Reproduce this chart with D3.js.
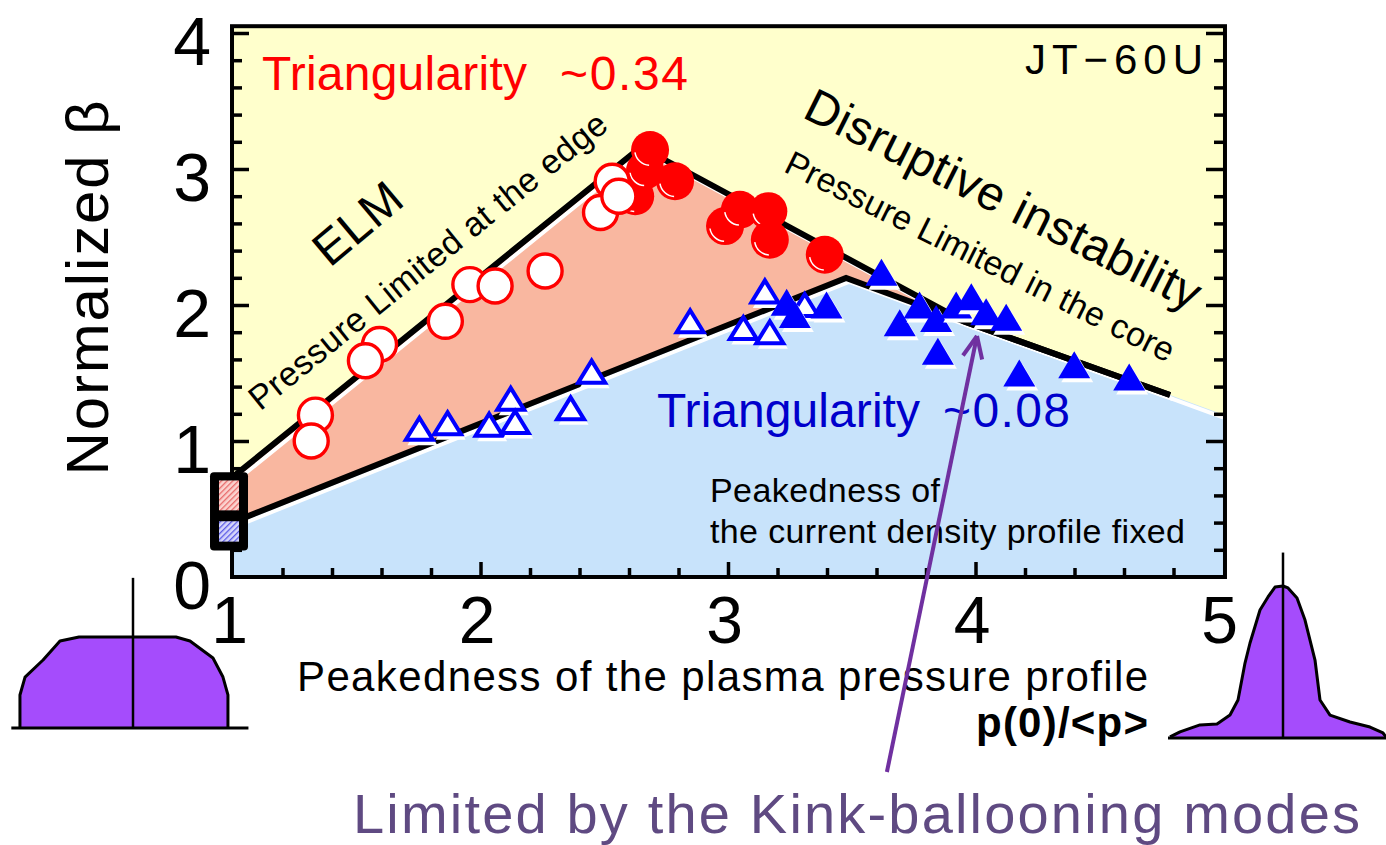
<!DOCTYPE html>
<html>
<head>
<meta charset="utf-8">
<script src="https://cdn.jsdelivr.net/npm/d3@7"></script>
<style>
  html, body { margin: 0; padding: 0; background: #ffffff; }
  svg { display: block; }
  text { font-family: "Liberation Sans", Arial, Helvetica, sans-serif; }
</style>
</head>
<body>
<svg id="chart" width="1386" height="845"></svg>
<script>
// ---- axis ticks ----
const xTickValues = [1, 2, 3, 4, 5];
const yTickValues = [0, 1, 2, 3, 4];

// ---- triangularity ~0.34 : open circles (ELM, edge-limited) ----
const edgeX = [1.333, 1.316, 1.592, 1.535, 1.858, 1.957, 2.059, 2.261, 2.532, 2.485, 2.559];
const edgeY = [1.19, 1.00, 1.71, 1.59, 1.88, 2.15, 2.14, 2.25, 2.91, 2.68, 2.80];

// ---- triangularity ~0.34 : filled circles (disruption, core-limited) ----
const coreX = [2.625, 2.665, 2.685, 2.786, 2.988, 3.048, 3.163, 3.169, 3.391];
const coreY = [2.80, 2.99, 3.14, 2.91, 2.58, 2.70, 2.69, 2.48, 2.37];

// ---- triangularity ~0.08 : open triangles ----
const lowEdgeX = [1.753, 1.867, 2.035, 2.122, 2.140, 2.364, 2.449, 2.847, 3.149, 3.062, 3.169, 3.310];
const lowEdgeY = [1.09, 1.13, 1.12, 1.31, 1.14, 1.24, 1.51, 1.88, 2.10, 1.83, 1.80, 2.00];

// ---- triangularity ~0.08 : filled triangles ----
const lowCoreX = [3.620, 3.237, 3.270, 3.398, 3.694, 3.774, 3.841, 3.922, 3.983, 4.043, 4.124, 3.848, 4.177, 4.399, 4.621];
const lowCoreY = [2.24, 2.02, 1.93, 2.00, 1.87, 2.00, 1.90, 2.00, 2.06, 1.95, 1.91, 1.66, 1.50, 1.56, 1.47];

// ---- operating-limit boundaries (x, beta_N) ----
const upperLimitX = [0.996, 2.648, 3.954, 4.786];
const upperLimitY = [0.73, 3.162, 1.879, 1.338];
const lowerLimitX = [0.996, 3.477, 3.954];
const lowerLimitY = [0.40, 2.199, 1.879];
const coreEdgeX = [0.996, 3.477, 3.954, 4.786, 5.008];
const coreEdgeY = [0.40, 2.199, 1.879, 1.338, 1.19];

// ---- pressure profile sketches (normalised radius, normalised pressure) ----
const flatR = [-1.087, -1.087, -1.038, -0.865, -0.702, -0.519, 0.413, 0.548, 0.769, 0.865, 0.913, 0.913];
const flatP = [0, 0.363, 0.56, 0.747, 0.956, 1.0, 1.0, 0.956, 0.769, 0.56, 0.363, 0];
const peakR = [-1.13, -1.03, -0.83, -0.66, -0.53, -0.45, -0.38, -0.33, -0.23, -0.15, -0.08, 0, 0.05, 0.14, 0.22, 0.32, 0.37, 0.47, 0.67, 0.87, 1.00, 1.03];
const peakP = [0.007, 0.04, 0.086, 0.092, 0.151, 0.25, 0.493, 0.625, 0.842, 0.928, 0.993, 1.0, 0.987, 0.921, 0.776, 0.513, 0.25, 0.151, 0.105, 0.072, 0.033, 0.007];

const zip = (a, b) => a.map((v, i) => [v, b[i]]);

const svg = d3.select("#chart");
const x = d3.scaleLinear().domain([1, 5]).range([233, 1223]);
const y = d3.scaleLinear().domain([0, 4]).range([577, 33]);

const fx0 = x(0.996), fx1 = x(5.008), fy0 = y(4.05), fy1 = y(0);

// ---- patterns ----
const defs = svg.append("defs");
const hatch = (id, base, line) => {
  const p = defs.append("pattern").attr("id", id).attr("patternUnits", "userSpaceOnUse")
    .attr("width", 4).attr("height", 4).attr("patternTransform", "rotate(45)");
  p.append("rect").attr("width", 4).attr("height", 4).attr("fill", base);
  p.append("rect").attr("width", 1.3).attr("height", 4).attr("fill", line);
};
hatch("hatchRed", "#fbd3cf", "#e86a6a");
hatch("hatchBlue", "#d6d6fb", "#5a5ae6");
defs.append("clipPath").attr("id", "plotClip")
  .append("rect").attr("x", fx0).attr("y", fy0).attr("width", fx1 - fx0).attr("height", fy1 - fy0);

// ---- plot background and regions ----
svg.append("rect").attr("x", fx0).attr("y", fy0).attr("width", fx1 - fx0).attr("height", fy1 - fy0)
  .attr("fill", "#ffffcc");

const plot = svg.append("g").attr("clip-path", "url(#plotClip)");
const line = d3.line().x(d => x(d[0])).y(d => y(d[1]));

const upper = zip(upperLimitX, upperLimitY);
const lower = zip(lowerLimitX, lowerLimitY);
const coreEdge = zip(coreEdgeX, coreEdgeY);

// region between the edge limit and the core limit (triangularity ~0.34 only)
const salmonPoly = [upper[0], upper[1], upper[2], lower[1], lower[0]];
plot.append("path").attr("d", line(salmonPoly) + "Z").attr("fill", "#f9b7a0");

// region accessible at low triangularity
const bluePoly = [[0.996, 0], ...coreEdge, [5.008, 0]];
plot.append("path").attr("d", line(bluePoly) + "Z").attr("fill", "#c8e3fb");

// white rims under the limit lines
const rim = plot.append("g").attr("transform", "translate(3,4)")
  .attr("fill", "none").attr("stroke", "#ffffff").attr("stroke-width", 4).attr("stroke-linejoin", "round");
rim.append("path").attr("d", line(upper));
rim.append("path").attr("d", line(coreEdge));

// black limit lines
const lim = plot.append("g").attr("fill", "none").attr("stroke", "#000").attr("stroke-width", 6)
  .attr("stroke-linejoin", "miter");
lim.append("path").attr("d", line(upper));
lim.append("path").attr("d", line(lower));
lim.append("path").attr("d", line(coreEdge.slice(2, 4)));

// ---- ticks ----
const range = (a, b, s) => d3.range(Math.round((b - a) / s) + 1).map(i => +(a + i * s).toFixed(3));
const yMinor = range(0, 4, 0.2).filter(v => !Number.isInteger(v));
const yMajor = [1, 2, 3, 4];
const xMinor = range(1.2, 4.8, 0.2).filter(v => !Number.isInteger(v));
const xMajor = [2, 3, 4];

const tickGroup = (axis) => {
  const g = svg.append("g");
  g.call(axis);
  g.select(".domain").remove();
  g.selectAll(".tick line").attr("stroke", "#000").attr("stroke-width", 3.5);
  g.selectAll(".tick text").remove();
  return g;
};
tickGroup(d3.axisLeft(y).tickValues(yMajor).tickSize(-17)).attr("transform", `translate(${fx0},0)`);
tickGroup(d3.axisLeft(y).tickValues(yMinor).tickSize(-10)).attr("transform", `translate(${fx0},0)`);
tickGroup(d3.axisRight(y).tickValues(yMajor).tickSize(-19)).attr("transform", `translate(${fx1},0)`);
tickGroup(d3.axisRight(y).tickValues(yMinor).tickSize(-11)).attr("transform", `translate(${fx1},0)`);
tickGroup(d3.axisBottom(x).tickValues(xMajor).tickSize(-15)).attr("transform", `translate(0,${fy1})`);
tickGroup(d3.axisBottom(x).tickValues(xMinor).tickSize(-9)).attr("transform", `translate(0,${fy1})`);

// ---- frame ----
svg.append("rect").attr("x", fx0).attr("y", fy0).attr("width", fx1 - fx0).attr("height", fy1 - fy0)
  .attr("fill", "none").attr("stroke", "#000").attr("stroke-width", 4);

// ---- tick labels ----
const yLab = svg.append("g").attr("transform", `translate(${fx0},0)`)
  .call(d3.axisLeft(y).tickValues(yTickValues).tickSize(0).tickPadding(21).tickFormat(d3.format("d")));
yLab.select(".domain").remove();
yLab.selectAll("text").attr("font-size", 68).attr("dy", "0.47em").attr("fill", "#000")
  .attr("font-family", "Liberation Sans, Arial, sans-serif");

const xLab = svg.append("g").attr("transform", `translate(0,${fy1})`)
  .call(d3.axisBottom(x).tickValues(xTickValues).tickSize(0).tickPadding(19).tickFormat(d3.format("d")));
xLab.select(".domain").remove();
xLab.selectAll("text").attr("font-size", 66).attr("dx", -4).attr("fill", "#000")
  .attr("font-family", "Liberation Sans, Arial, sans-serif");

// ---- legend swatch box on the beta axis ----
const box = svg.append("g");
box.append("rect").attr("x", fx0 - 22).attr("y", y(0.77)).attr("width", 38).attr("height", y(0.195) - y(0.77))
  .attr("rx", 4).attr("fill", "#000");
box.append("rect").attr("x", fx0 - 13).attr("y", y(0.71)).attr("width", 20).attr("height", y(0.49) - y(0.71))
  .attr("fill", "url(#hatchRed)");
box.append("rect").attr("x", fx0 - 13).attr("y", y(0.41)).attr("width", 20).attr("height", y(0.26) - y(0.41))
  .attr("fill", "url(#hatchBlue)");

// ---- markers ----
const marks = svg.append("g");
const tri = (w, h) => `M0,${-h / 2}L${w / 2},${h / 2}L${-w / 2},${h / 2}Z`;

// filled red circles with a faint white rim highlight
const highlight = d3.arc().innerRadius(14.5).outerRadius(16)
  .startAngle(Math.PI * 1.02).endAngle(Math.PI * 1.45);
zip(coreX, coreY).forEach(([vx, vy]) => {
  const g = marks.append("g").attr("transform", `translate(${x(vx)},${y(vy)})`);
  g.append("circle").attr("r", 19).attr("fill", "#ff0000");
  g.append("path").attr("d", highlight()).attr("fill", "#ffffff");
});

// open red circles
zip(edgeX, edgeY).forEach(([vx, vy]) => {
  marks.append("circle").attr("cx", x(vx)).attr("cy", y(vy)).attr("r", 17)
    .attr("fill", "#ffffff").attr("stroke", "#ff0000").attr("stroke-width", 3.4);
});

// open blue triangles
zip(lowEdgeX, lowEdgeY).forEach(([vx, vy]) => {
  const g = marks.append("g").attr("transform", `translate(${x(vx)},${y(vy)})`);
  g.append("path").attr("d", tri(30, 25)).attr("transform", "translate(3,4)").attr("fill", "#ffffff");
  g.append("path").attr("d", tri(27, 22)).attr("fill", "#ffffff")
    .attr("stroke", "#0000ff").attr("stroke-width", 4).attr("stroke-linejoin", "miter");
});

// filled blue triangles
zip(lowCoreX, lowCoreY).forEach(([vx, vy]) => {
  const g = marks.append("g").attr("transform", `translate(${x(vx)},${y(vy)})`);
  g.append("path").attr("d", tri(32, 27)).attr("transform", "translate(3,4)").attr("fill", "#ffffff");
  g.append("path").attr("d", tri(32, 27)).attr("fill", "#0000ff");
});

// ---- annotations ----
const txt = (s, px, py, size, opts = {}) => {
  const t = svg.append("text").attr("x", px).attr("y", py).attr("font-size", size)
    .attr("fill", opts.fill || "#000").text(s);
  if (opts.len) t.attr("textLength", opts.len).attr("lengthAdjust", "spacing");
  if (opts.weight) t.attr("font-weight", opts.weight);
  if (opts.anchor) t.attr("text-anchor", opts.anchor);
  if (opts.rotate !== undefined) t.attr("transform", `rotate(${opts.rotate},${px},${py})`);
  return t;
};

txt("Triangularity", 262, 90, 48, { fill: "#ff0000", len: 265 });
txt("~0.34", 560, 90, 48, { fill: "#ff0000", len: 128 });
txt("Triangularity", 657, 427, 48, { fill: "#0000cc", len: 263 });
txt("~0.08", 943, 427, 48, { fill: "#0000cc", len: 127 });
txt("JT\u221260U", 1025, 74, 42, { len: 178 });

txt("ELM", 368, 236, 48, { anchor: "middle", rotate: -40, len: 100 });
txt("Pressure Limited at the edge", 435, 270, 34, { anchor: "middle", rotate: -39, len: 450 });
txt("Disruptive instability", 996, 214, 48, { anchor: "middle", rotate: 26.5, len: 436 });
txt("Pressure Limited in the core", 975, 267, 34, { anchor: "middle", rotate: 26.5, len: 430 });

txt("Peakedness of", 710, 502, 34, { len: 230 });
txt("the current density profile fixed", 710, 543, 34, { len: 475 });

// axis titles
txt("Normalized \u03b2", 108, 288, 60, { anchor: "middle", rotate: -90, len: 375 });
txt("Peakedness of the plasma pressure profile", 297, 691, 42, { len: 851 });
txt("p(0)/<p>", 976, 737, 42, { weight: "bold", len: 172 });

// ---- arrow to the kink-ballooning limited shots ----
const tip = [x(4.006), y(1.772)], tail = [x(3.642), y(-1.434)];
const arrow = svg.append("g").attr("stroke", "#7030a0").attr("stroke-width", 4)
  .attr("fill", "none").attr("stroke-linecap", "butt");
arrow.append("line").attr("x1", tail[0]).attr("y1", tail[1]).attr("x2", tip[0]).attr("y2", tip[1]);
const dx = tail[0] - tip[0], dy = tail[1] - tip[1], L = Math.hypot(dx, dy);
const ux = dx / L, uy = dy / L, head = 24, ang = 0.42;
[ang, -ang].forEach(a => {
  const rx = ux * Math.cos(a) - uy * Math.sin(a), ry = ux * Math.sin(a) + uy * Math.cos(a);
  arrow.append("line").attr("x1", tip[0]).attr("y1", tip[1])
    .attr("x2", tip[0] + rx * head).attr("y2", tip[1] + ry * head);
});
txt("Limited by the Kink-ballooning modes", 353, 833, 56, { fill: "#5f4a82", len: 1007 });

// ---- pressure profile sketches ----
const sketch = (rArr, pArr, rScale, pScale, baseR, lineTop) => {
  const g = svg.append("g");
  const pts = zip(rArr, pArr);
  const l = d3.line().x(d => rScale(d[0])).y(d => pScale(d[1]));
  g.append("path").attr("d", l(pts) + "Z").attr("fill", "#a54cfc");
  g.append("path").attr("d", l(pts)).attr("fill", "none").attr("stroke", "#000")
    .attr("stroke-width", 3).attr("stroke-linejoin", "round");
  g.append("line").attr("x1", rScale(baseR[0])).attr("x2", rScale(baseR[1]))
    .attr("y1", pScale(0)).attr("y2", pScale(0)).attr("stroke", "#000").attr("stroke-width", 3);
  g.append("line").attr("x1", rScale(0)).attr("x2", rScale(0))
    .attr("y1", pScale(0)).attr("y2", pScale(lineTop)).attr("stroke", "#000").attr("stroke-width", 2.5);
};
sketch(flatR, flatP, d3.scaleLinear().domain([-1, 1]).range([29, 237]),
  d3.scaleLinear().domain([0, 1]).range([728, 637]), [-1.17, 1.11], 1.65);
sketch(peakR, peakP, d3.scaleLinear().domain([-1, 1]).range([1183, 1383]),
  d3.scaleLinear().domain([0, 1]).range([738, 586]), [-1.15, 1.03], 1.22);
</script>
</body>
</html>
